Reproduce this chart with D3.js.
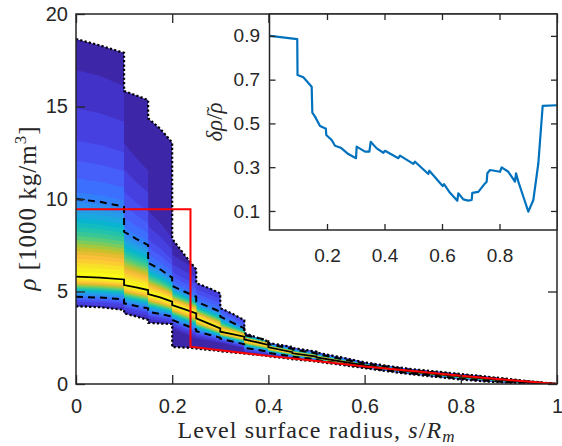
<!DOCTYPE html>
<html><head><meta charset="utf-8">
<script src="https://cdn.jsdelivr.net/npm/d3@7"></script>
<style>body{margin:0;background:#fff} svg{display:block}</style>
</head><body>
<svg id="c" width="562" height="446"></svg>
<script>
// ---------------- data ----------------
const radius = [0, 0.05, 0.0999, 0.1, 0.125, 0.1499, 0.15, 0.175, 0.1999, 0.2, 0.225, 0.2499, 0.25, 0.275, 0.2999, 0.3, 0.325, 0.3499, 0.35, 0.375, 0.3999, 0.4, 0.4499, 0.45, 0.4999, 0.5, 0.55, 0.6, 0.65, 0.7, 0.75, 0.8, 0.85, 0.9, 0.95, 1.0];
const rhoUpperBound = [18.65, 18.3, 17.9, 15.84, 15.6, 15.35, 14.36, 13.8, 13.05, 7.85, 7.0, 6.2, 5.45, 5.2, 4.9, 4.1, 3.8, 3.45, 2.75, 2.52, 2.3, 2.22, 2.0, 1.95, 1.75, 1.7, 1.45, 1.17, 0.97, 0.8, 0.67, 0.54, 0.41, 0.27, 0.13, 0];
const rhoLowerBound = [4.2, 4.15, 4.0, 3.82, 3.65, 3.46, 3.31, 3.27, 3.24, 2.0, 1.97, 1.93, 1.92, 1.85, 1.78, 1.77, 1.71, 1.65, 1.64, 1.58, 1.51, 1.5, 1.35, 1.34, 1.22, 1.21, 1.04, 0.86, 0.68, 0.52, 0.38, 0.24, 0.14, 0.07, 0.02, 0];
const rhoMedian = [5.8, 5.75, 5.65, 5.35, 5.22, 5.08, 4.86, 4.68, 4.45, 4.27, 4.05, 3.82, 3.55, 3.28, 3.01, 2.83, 2.7, 2.56, 2.41, 2.26, 2.11, 1.98, 1.72, 1.66, 1.48, 1.44, 1.22, 1.0, 0.83, 0.66, 0.53, 0.41, 0.29, 0.18, 0.08, 0];
const rhoUpperDashed = [10.0, 9.85, 9.58, 8.23, 7.85, 7.51, 6.55, 6.2, 5.75, 5.3, 5.0, 4.72, 4.45, 4.18, 3.91, 3.64, 3.32, 3.01, 2.65, 2.5, 2.38, 2.15, 1.9, 1.87, 1.65, 1.62, 1.36, 1.1, 0.92, 0.74, 0.61, 0.48, 0.36, 0.24, 0.11, 0];
const rhoLowerDashed = [4.72, 4.67, 4.58, 4.36, 4.22, 4.09, 3.91, 3.78, 3.64, 3.46, 3.2, 2.95, 2.85, 2.68, 2.5, 2.45, 2.3, 2.15, 1.95, 1.85, 1.75, 1.68, 1.5, 1.48, 1.33, 1.3, 1.1, 0.9, 0.73, 0.57, 0.43, 0.3, 0.19, 0.1, 0.04, 0];

// probability-density profile (normalised distance from median -> colour value)
const pdfUpT = [0, 0.12, 0.3, 0.5, 0.75, 1.0, 1.3, 1.7, 2.2, 2.8, 3.6];
const pdfUpV = [1, 0.92, 0.78, 0.6, 0.42, 0.27, 0.2, 0.13, 0.08, 0.03, 0];
const pdfDnT = [0, 0.25, 0.5, 0.75, 1.0, 1.25, 1.6, 2.0];
const pdfDnV = [1, 0.85, 0.62, 0.4, 0.25, 0.12, 0.03, 0];

const redRadius = [0, 0.238, 0.238, 0.3, 0.4, 0.5, 0.6, 0.7, 0.8, 0.9, 1.0];
const redRho = [9.45, 9.45, 2.02, 1.83, 1.52, 1.24, 0.95, 0.7, 0.45, 0.22, 0];

const insetRadius = [0.0017, 0.0965, 0.0975, 0.1177, 0.1467, 0.149, 0.1583, 0.1757, 0.193, 0.196, 0.1975, 0.2162, 0.2278, 0.2475, 0.2742, 0.3009, 0.3032, 0.3322, 0.3473, 0.352, 0.3728, 0.396, 0.4017, 0.4481, 0.4539, 0.5003, 0.5061, 0.5525, 0.556, 0.6023, 0.607, 0.6278, 0.6533, 0.6568, 0.6742, 0.6916, 0.7032, 0.7055, 0.7264, 0.7496, 0.7554, 0.7577, 0.767, 0.8017, 0.8075, 0.8307, 0.8539, 0.8574, 0.8655, 0.883, 0.9003, 0.9177, 0.9351, 0.9502, 1.0];
const insetDelta = [0.900, 0.885, 0.721, 0.711, 0.668, 0.549, 0.531, 0.488, 0.478, 0.477, 0.447, 0.424, 0.398, 0.389, 0.360, 0.341, 0.394, 0.371, 0.371, 0.416, 0.386, 0.366, 0.375, 0.341, 0.353, 0.315, 0.325, 0.269, 0.284, 0.214, 0.223, 0.183, 0.147, 0.181, 0.153, 0.147, 0.150, 0.183, 0.187, 0.226, 0.234, 0.272, 0.287, 0.279, 0.299, 0.279, 0.234, 0.272, 0.234, 0.165, 0.097, 0.150, 0.318, 0.580, 0.583];

const xTicks = [0, 0.2, 0.4, 0.6, 0.8, 1];
const yTicks = [0, 5, 10, 15, 20];
const insetXTicks = [0.2, 0.4, 0.6, 0.8];
const insetYTicks = [0.1, 0.3, 0.5, 0.7, 0.9];

const parulaColors = ["#3e26a8","#4537d5","#484df0","#4563fd","#327cfc","#2b91ef","#20a5e3","#08b5d0","#19bfb6","#37c897","#64cd6f","#9dc943","#d1bf27","#f8ba3d","#fccf30","#f5e924","#f9fb15"];

// ---------------- drawing ----------------
const svg = d3.select("#c");
const axisColor = "#262626";
const x = d3.scaleLinear([0, 1], [76, 557]);
const y = d3.scaleLinear([0, 20], [384, 14]);

const defs = svg.append("defs");
defs.append("clipPath").attr("id", "plotClip").append("rect")
  .attr("x", 76).attr("y", 14).attr("width", 481).attr("height", 370);

const interp = arr => d3.scaleLinear().domain(radius).range(arr);
const fU = interp(rhoUpperBound), fL = interp(rhoLowerBound), fM = interp(rhoMedian),
      fDU = interp(rhoUpperDashed), fDL = interp(rhoLowerDashed);
const tUp = d3.scaleLinear().domain(pdfUpV).range(pdfUpT).clamp(true);
const tDn = d3.scaleLinear().domain(pdfDnV).range(pdfDnT).clamp(true);
const parula = d3.scaleLinear()
  .domain(parulaColors.map((_, i) => i / (parulaColors.length - 1)))
  .range(parulaColors).interpolate(d3.interpolateRgb);

const grid = Array.from(new Set(radius.concat(d3.range(0, 1.00001, 0.0025).map(v => +v.toFixed(4))))).sort((a, b) => a - b);

const gBands = svg.append("g").attr("clip-path", "url(#plotClip)");
const N = 24;
for (let k = 0; k < N; k++) {
  const lam = k / N;
  const area = d3.area()
    .x(d => x(d))
    .y1(d => k === 0 ? y(fU(d)) : y(Math.min(fU(d), fM(d) + tUp(lam) * (fDU(d) - fM(d)))))
    .y0(d => k === 0 ? y(fL(d)) : y(Math.max(fL(d), fM(d) - tDn(lam) * (fM(d) - fDL(d)))));
  gBands.append("path").attr("d", area(grid)).attr("fill", parula(k / (N - 1)));
}

const gLines = svg.append("g").attr("clip-path", "url(#plotClip)").attr("fill", "none");
const line = d3.line().x((d, i) => x(radius[i])).y(d => y(d));
gLines.append("path").attr("d", line(rhoUpperDashed)).attr("stroke", "#000").attr("stroke-width", 2).attr("stroke-dasharray", "7,5");
gLines.append("path").attr("d", line(rhoLowerDashed)).attr("stroke", "#000").attr("stroke-width", 2).attr("stroke-dasharray", "7,5");
gLines.append("path").attr("d", line(rhoMedian)).attr("stroke", "#000").attr("stroke-width", 1.8);
gLines.append("path").attr("d", line(rhoUpperBound)).attr("stroke", "#000").attr("stroke-width", 2.2).attr("stroke-dasharray", "2.2,2.2");
gLines.append("path").attr("d", line(rhoLowerBound)).attr("stroke", "#000").attr("stroke-width", 2.2).attr("stroke-dasharray", "2.2,2.2");
const redLine = d3.line().x((d, i) => x(redRadius[i])).y(d => y(d));
gLines.append("path").attr("d", redLine(redRho)).attr("stroke", "#ff0000").attr("stroke-width", 2);

// main axes
function styleAxis(g, fs) {
  g.select(".domain").remove();
  g.selectAll(".tick line").attr("stroke", axisColor).attr("stroke-width", 1.3);
  g.selectAll(".tick text").attr("fill", axisColor).attr("font-size", fs).attr("font-family", "Liberation Sans, Arial, sans-serif");
}
const fmtX = d => d === 0 ? "0" : d === 1 ? "1" : d.toFixed(1);
svg.append("g").attr("transform", "translate(0,384)")
  .call(d3.axisBottom(x).tickValues(xTicks).tickSize(-9).tickPadding(15).tickFormat(fmtX)).call(g => styleAxis(g, 20));
svg.append("g").attr("transform", "translate(0,14)")
  .call(d3.axisTop(x).tickValues(xTicks).tickSize(-9).tickFormat("")).call(g => styleAxis(g, 20));
svg.append("g").attr("transform", "translate(76,0)")
  .call(d3.axisLeft(y).tickValues(yTicks).tickSize(-9).tickPadding(8)).call(g => styleAxis(g, 20));
svg.append("g").attr("transform", "translate(557,0)")
  .call(d3.axisRight(y).tickValues(yTicks).tickSize(-9).tickFormat("")).call(g => styleAxis(g, 20));
svg.append("rect").attr("x", 76).attr("y", 14).attr("width", 481).attr("height", 370)
  .attr("fill", "none").attr("stroke", axisColor).attr("stroke-width", 1.5);

// axis labels
const serif = "Liberation Serif, Times New Roman, serif";
const xl = svg.append("text").attr("x", 316.5).attr("y", 438).attr("text-anchor", "middle")
  .attr("font-family", serif).attr("font-size", 24).attr("letter-spacing", 1.1).attr("fill", axisColor);
xl.append("tspan").text("Level surface radius, ");
xl.append("tspan").attr("font-style", "italic").text("s");
xl.append("tspan").text("/");
xl.append("tspan").attr("font-style", "italic").text("R");
xl.append("tspan").attr("font-style", "italic").attr("font-size", 17).attr("dy", 4).text("m");

const yl = svg.append("text").attr("transform", "translate(36,208) rotate(-90)").attr("text-anchor", "middle")
  .attr("font-family", serif).attr("font-size", 25).attr("letter-spacing", 1).attr("fill", axisColor);
yl.append("tspan").attr("font-style", "italic").text("ρ");
yl.append("tspan").text(" [1000 kg/m");
yl.append("tspan").attr("font-size", 17).attr("dy", -10).text("3");
yl.append("tspan").attr("dy", 10).text("]");

// ---------------- inset ----------------
const xi = d3.scaleLinear([0, 1], [269.5, 557]);
const yi = d3.scaleLinear([0.013, 1], [230, 14]);
svg.append("rect").attr("x", 269.5).attr("y", 14).attr("width", 287.5).attr("height", 216).attr("fill", "#fff");
defs.append("clipPath").attr("id", "insetClip").append("rect")
  .attr("x", 269.5).attr("y", 14).attr("width", 287.5).attr("height", 216);
const iline = d3.line().x((d, i) => xi(insetRadius[i])).y(d => yi(d));
svg.append("path").attr("clip-path", "url(#insetClip)").attr("d", iline(insetDelta))
  .attr("fill", "none").attr("stroke", "#0072bd").attr("stroke-width", 2.2).attr("stroke-linejoin", "round");

svg.append("g").attr("transform", "translate(0,230)")
  .call(d3.axisBottom(xi).tickValues(insetXTicks).tickSize(-6).tickPadding(19).tickFormat(d => d.toFixed(1))).call(g => styleAxis(g, 19));
svg.append("g").attr("transform", "translate(0,14)")
  .call(d3.axisTop(xi).tickValues(insetXTicks).tickSize(-6).tickFormat("")).call(g => styleAxis(g, 19));
svg.append("g").attr("transform", "translate(269.5,0)")
  .call(d3.axisLeft(yi).tickValues(insetYTicks).tickSize(-6).tickPadding(9.5).tickFormat(d => d.toFixed(1))).call(g => styleAxis(g, 19));
svg.append("g").attr("transform", "translate(557,0)")
  .call(d3.axisRight(yi).tickValues(insetYTicks).tickSize(-6).tickFormat("")).call(g => styleAxis(g, 19));
svg.append("rect").attr("x", 269.5).attr("y", 14).attr("width", 287.5).attr("height", 216)
  .attr("fill", "none").attr("stroke", axisColor).attr("stroke-width", 1.5);

const il = svg.append("text").attr("transform", "translate(222,122) rotate(-90)").attr("text-anchor", "middle")
  .attr("font-family", serif).attr("font-size", 23).attr("fill", axisColor);
il.append("tspan").attr("font-style", "italic").text("δρ");
il.append("tspan").text("/");
il.append("tspan").attr("font-style", "italic").text("ρ");
il.append("tspan").attr("font-size", 20).attr("dx", -11).attr("dy", -1).text("\u02DC");
</script>
</body></html>
